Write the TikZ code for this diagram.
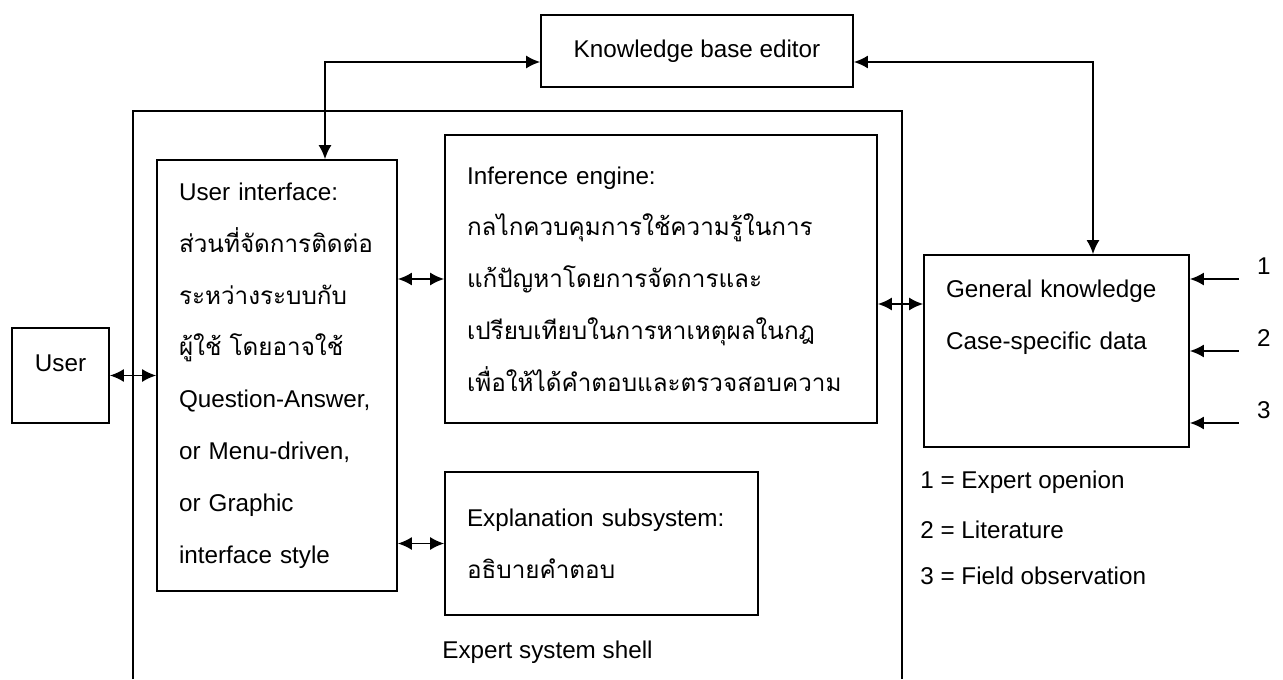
\documentclass[tikz,border=0pt]{standalone}
\usepackage{fontspec}
\setmainfont{Liberation Sans}
\newfontfamily\thaifont[Script=Thai]{Loma}
\usetikzlibrary{arrows.meta}
\newcommand{\thline}[1]{{\thaifont #1}}

\begin{document}
\begin{tikzpicture}[x=0.02cm, y=-0.02cm,
    unit/.style={draw, line width=1pt, inner xsep=0.44cm, font=\fontsize{13.8pt}{29.5pt}\selectfont},
    link/.style={{Latex[length=0.28cm,width=0.26cm]}-{Latex[length=0.28cm,width=0.26cm]}, line width=1pt},
    feed/.style={-{Latex[length=0.28cm,width=0.26cm]}, line width=1pt},
    caption/.style={anchor=west, inner sep=0pt, font=\fontsize{13.8pt}{16pt}\selectfont}
]
    \useasboundingbox (0,0) rectangle (1283,679);

    % Outer shell, its bottom edge lies below the page
    \draw[line width=1pt] (133,679) |- (902,111) -- (902,679);
    \node[caption] (shell) at (442,652) {Expert system shell};

    % Boxes
    \node[unit, inner xsep=0pt, minimum width=6.24cm, minimum height=1.44cm] (kb) at (697,51) {Knowledge base editor};
    \node[unit, inner xsep=0pt, minimum width=1.94cm, minimum height=1.9cm, text depth=0.48cm] (user) at (60.5,375.5) {User};
    \node[unit, align=left, text width=3.92cm, minimum height=8.62cm] (ui) at (277,375.5) {User interface:\\
        \thline{ส่วนที่จัดการติดต่อ}\\
        \thline{ระหว่างระบบกับ}\\
        \thline{ผู้ใช้ โดยอาจใช้}\\
        Question-Answer,\\
        or Menu-driven,\\
        or Graphic\\
        interface style};
    \node[unit, align=left, text width=7.76cm, minimum height=5.76cm] (inf) at (661,279) {Inference engine:\\
        \thline{กลไกควบคุมการใช้ความรู้ในการ}\\
        \thline{แก้ปัญหาโดยการจัดการและ}\\
        \thline{เปรียบเทียบในการหาเหตุผลในกฎ}\\
        \thline{เพื่อให้ได้คำตอบและตรวจสอบความ}};
    \node[unit, align=left, text width=5.38cm, minimum height=2.86cm] (ex) at (601.5,543.5) {Explanation subsystem:\\
        \thline{อธิบายคำตอบ}};
    \node[unit, align=left, text width=4.42cm, minimum height=3.84cm] (gk) at (1056.5,351) {General knowledge\\
        Case-specific data\\[0.4cm]\mbox{}};

    % Connectors
    \draw[link] ([yshift=-0.22cm]kb.west) -| ([xshift=0.96cm]ui.north);
    \draw[link] ([yshift=-0.22cm]kb.east) -| ([xshift=0.73cm]gk.north);
    \draw[link] (user) -- (ui);
    \draw[link] (ui.east |- inf.west) -- (inf.west);
    \draw[link] (ui.east |- ex.west) -- (ex.west);
    \coordinate (ig) at ([yshift=-0.5cm]inf.east);
    \draw[link] (ig) -- (ig -| gk.west);

    % Knowledge sources
    \foreach \n/\dy in {1/1.44, 2/0, 3/-1.44} {
        \coordinate (src\n) at ([xshift=0.98cm, yshift=\dy cm]gk.east);
        \draw[feed] (src\n) -- (src\n -| gk.east);
        \node[font=\fontsize{13.8pt}{16pt}\selectfont] (num\n) at ([xshift=0.5cm, yshift=0.26cm]src\n) {\n};
    }

    % Legend
    \node[caption] (key1) at (920,482) {1 = Expert openion};
    \node[caption] (key2) at (920,530) {2 = Literature};
    \node[caption] (key3) at (920,576) {3 = Field observation};
\end{tikzpicture}
\end{document}
